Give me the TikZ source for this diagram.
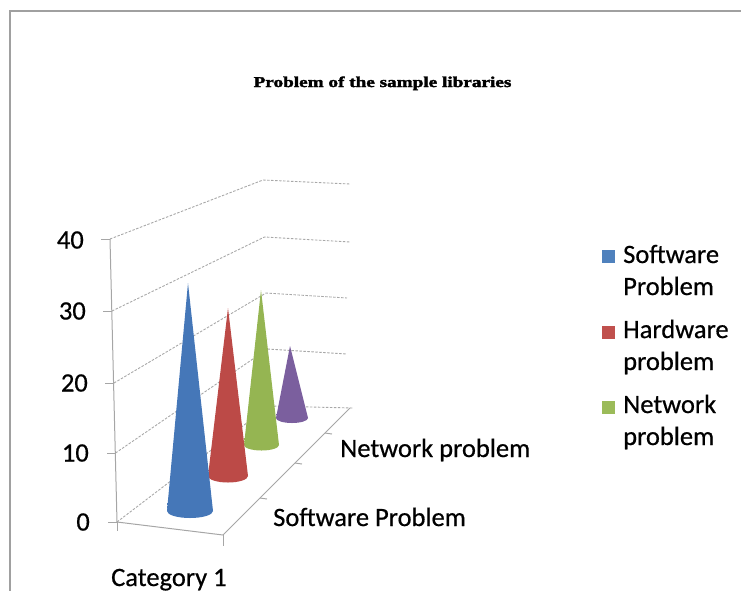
\documentclass[tikz,border=0pt]{standalone}
\usepackage{fontspec}
\usepackage{graphicx}
\setmainfont[FakeBold=0.6]{Carlito}
\newfontfamily\titlefont[FakeBold=2]{Liberation Serif}
\definecolor{framegray}{HTML}{A0A0A0}
\definecolor{gridgray}{HTML}{A8A8A8}
\definecolor{axisgray}{HTML}{A6A6A6}
\definecolor{cblue}{HTML}{4F81BD}
\definecolor{cbluel}{HTML}{85B2EE}
\definecolor{cblued}{HTML}{4577B8}
\definecolor{cred}{HTML}{C0504D}
\definecolor{credl}{HTML}{F28480}
\definecolor{credd}{HTML}{BC4A47}
\definecolor{cgreen}{HTML}{9BBB59}
\definecolor{cgreenl}{HTML}{C6E888}
\definecolor{cgreend}{HTML}{95B552}
\definecolor{cpurple}{HTML}{8064A2}
\definecolor{cpurplel}{HTML}{B49AD8}
\definecolor{cpurpled}{HTML}{7B5F9E}
\tikzset{
  gridline/.style={gridgray, line width=0.9pt, dash pattern=on 2.5pt off 1.5pt},
  axisline/.style={axisgray, line width=1pt},
  lbl/.style={font=\fontsize{26.5}{31}\selectfont, inner sep=0pt, text=black},
  legsq/.style={inner sep=0pt, minimum size=13pt},
}
\begin{document}
\begin{tikzpicture}[x=1pt,y=-1pt]
\useasboundingbox (0,0) rectangle (741,590);
\clip (0,0) rectangle (741,590);
% frame
\draw[framegray, line width=2pt] (10,600) -- (10,11) -- (760,11);
% title
\node[anchor=base, inner sep=0pt] (title) at (382.5,87)
  {\scalebox{1.28}[1]{\titlefont\fontsize{15}{18}\selectfont\bfseries Problem of the sample libraries}};
% axis corner coordinates
\coordinate (a40) at (110,239);
\coordinate (a30) at (112,311);
\coordinate (a20) at (114,383);
\coordinate (a10) at (115.5,453);
\coordinate (a0)  at (117,522);
\coordinate (b40) at (263,180);
\coordinate (b30) at (264.5,237);
\coordinate (b20) at (266,293);
\coordinate (b10) at (267.5,349);
\coordinate (b0)  at (269,406);
\coordinate (c40) at (350,184);
\coordinate (c30) at (350,242);
\coordinate (c20) at (347,298);
\coordinate (c10) at (347,354);
\coordinate (c0)  at (353,408);
\coordinate (f1) at (223,535);
\coordinate (f2) at (350,408);
\coordinate (d1) at (260,498);
\coordinate (d2) at (295,463);
\coordinate (d3) at (325,433);
% gridlines
\foreach \v in {40,30,20,10,0}{
  \draw[gridline] (a\v) -- (b\v) -- (c\v);
}
% axes
\draw[axisline] (a40) -- (a0);
\foreach \v in {40,30,20,10,0}{
  \draw[axisline] (a\v) -- ++(-9,0);
}
\draw[axisline] (a0) -- (f1) -- (f2);
\draw[axisline] (a0) -- ++(0,9);
\draw[axisline] (f1) -- ++(0,11);
\foreach \d in {d1,d2,d3}{
  \draw[axisline] (\d) -- ++(7,1);
}
% cones (back to front)
\shade[left color=cpurpled, middle color=cpurplel, right color=cpurpled]
  (290,346) -- (276,418) arc[start angle=180, end angle=0, x radius=16, y radius=5] -- cycle;
\shade[left color=cgreend, middle color=cgreenl, right color=cgreend]
  (261,290) -- (244,445) arc[start angle=180, end angle=0, x radius=17.5, y radius=5.5] -- cycle;
\shade[left color=credd, middle color=credl, right color=credd]
  (228,308) -- (208,476) arc[start angle=180, end angle=0, x radius=20, y radius=6.5] -- cycle;
\shade[left color=cblued, middle color=cbluel, right color=cblued]
  (188,283) -- (167,511) arc[start angle=180, end angle=0, x radius=23, y radius=7] -- cycle;
% y axis labels
\node[lbl, anchor=east] (y40) at (84,240) {40};
\node[lbl, anchor=east] (y30) at (86,311) {30};
\node[lbl, anchor=east] (y20) at (88,383) {20};
\node[lbl, anchor=east] (y10) at (89,453) {10};
\node[lbl, anchor=east] (y0)  at (90,522) {0};
% category and series labels
\node[lbl, anchor=base west] (cat) at (111,586) {Category 1};
\node[lbl, anchor=base west] (ser1) at (273,526) {Software Problem};
\node[lbl, anchor=base west] (ser3) at (340,457) {Network problem};
% legend
\node[legsq, fill=cblue, anchor=north west] (sq1) at (602,250) {};
\node[legsq, fill=cred, anchor=north west] (sq2) at (602,326) {};
\node[legsq, fill=cgreen, anchor=north west] (sq3) at (602,401) {};
\node[lbl, anchor=base west] (l1a) at (623,263) {Software};
\node[lbl, anchor=base west] (l1b) at (623,295) {Problem};
\node[lbl, anchor=base west] (l2a) at (623,338) {Hardware};
\node[lbl, anchor=base west] (l2b) at (623,370) {problem};
\node[lbl, anchor=base west] (l3a) at (623,413) {Network};
\node[lbl, anchor=base west] (l3b) at (623,445) {problem};
\end{tikzpicture}
\end{document}
